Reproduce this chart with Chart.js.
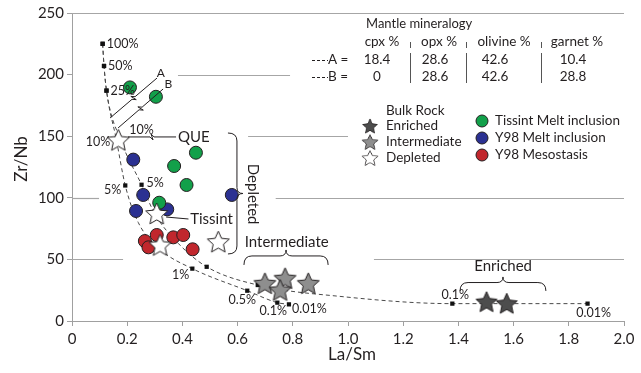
<!DOCTYPE html>
<html>
<head>
<meta charset="utf-8">
<script src="https://cdn.jsdelivr.net/npm/chart.js@4"></script>
<style>
  html, body { margin: 0; padding: 0; background: #fff; }
  #caja { width: 641px; height: 373px; }
</style>
</head>
<body>
<div id="caja"><canvas id="grafico" width="641" height="373"></canvas></div>
<script>
// valores (La/Sm vs Zr/Nb)
const ticksX = ['0', '0.2', '0.4', '0.6', '0.8', '1.0', '1.2', '1.4', '1.6', '1.8', '2.0'];
const ticksY = ['0', '50', '100', '150', '200', '250'];

// curvas de fusion (etiqueta null = punto de la curva sin marcador)
const curvaIzq_x = [0.111, 0.116, 0.125, 0.160, 0.193, 0.240, 0.320, 0.436, 0.635, 0.744, 0.786];
const curvaIzq_y = [225, 207, 187, 148, 110, 80, 58, 42.5, 24.6, 14.9, 13.5];
const curvaIzq_etq = ['100%', '50%', '25%', '10%', '5%', null, null, '1%', '0.5%', '0.1%', '0.01%'];

const curvaDer_x = [0.111, 0.116, 0.125, 0.178, 0.252, 0.300, 0.385, 0.488, 0.673, 0.970, 1.378, 1.868];
const curvaDer_y = [225, 207, 187, 146, 110.6, 87, 63, 44, 29.2, 20, 14.1, 14.1];
const curvaDer_etq = ['100%', '50%', '25%', '10%', '5%', null, null, '1%', '0.5%', null, '0.1%', '0.01%'];

const tissint_x = [0.210, 0.304, 0.449, 0.370, 0.415, 0.316];
const tissint_y = [189.6, 182, 136.6, 125.8, 110.4, 96];
const y98melt_x = [0.222, 0.258, 0.232, 0.345, 0.579];
const y98melt_y = [131, 102.3, 89.3, 90.6, 102.3];
const y98meso_x = [0.264, 0.277, 0.307, 0.367, 0.403, 0.437];
const y98meso_y = [64.9, 59.8, 69.8, 67.9, 69.8, 58.2];

const enriquecido_x = [1.502, 1.575];
const enriquecido_y = [15.7, 14.4];
const intermedio_x = [0.699, 0.772, 0.856, 0.754];
const intermedio_y = [30.6, 34.7, 30.6, 25.2];
const empobrecido_x = [0.168, 0.307, 0.319, 0.530];
const empobrecido_y = [147, 87.3, 61.7, 64.4];

// tabla de mineralogia del manto
const minerales = ['cpx %', 'opx %', 'olivine %', 'garnet %'];
const modoA = ['18.4', '28.6', '42.6', '10.4'];
const modoB = ['0', '28.6', '42.6', '28.8'];

const fuente = 'Lato, "Open Sans", sans-serif';
const tinta = '#231f20';

const puntos = (xs, ys) => xs.map((x, i) => ({ x: x, y: ys[i] }));

const hacerEstrella = (r, relleno) => {
    const c = document.createElement('canvas');
    const t = Math.ceil(r * 2 + 4);
    c.width = t; c.height = t;
    const g = c.getContext('2d');
    g.beginPath();
    for (let i = 0; i < 10; i++) {
        const rad = i % 2 === 0 ? r : r * 0.47;
        const ang = -Math.PI / 2 + i * Math.PI / 5;
        const px = t / 2 + rad * Math.cos(ang);
        const py = t / 2 + 1 + rad * Math.sin(ang);
        i === 0 ? g.moveTo(px, py) : g.lineTo(px, py);
    }
    g.closePath();
    g.fillStyle = relleno; g.fill();
    g.strokeStyle = tinta; g.lineWidth = 1; g.stroke();
    return c;
};

const colEnr = '#4d4d4d', colInt = '#8e8e8e', colEmp = '#ffffff';
const colVerde = '#12a04a', colAzul = '#2b3192', colRojo = '#c1272d';

const estrellaEnr = hacerEstrella(11, colEnr);
const estrellaInt = hacerEstrella(11.5, colInt);
const estrellaEmp = hacerEstrella(11.5, colEmp);

// donde se escribe cada etiqueta de la curva [dx, dy, alineacion]
const posIzq = {
    '100%': [4, 0, 'left'], '50%': [4, 0, 'left'], '25%': [4, 0, 'left'],
    '10%': [-6, 3, 'right'], '5%': [-4, 4, 'right'], '1%': [-3, 6, 'right'],
    '0.5%': [-5, 9, 'center'], '0.1%': [-4, 8, 'center'], '0.01%': [3, 5, 'left']
};
const posDer = {
    '10%': [8, -11, 'left'], '5%': [5, -2, 'left'],
    '0.1%': [3, -9, 'center'], '0.01%': [6, 9, 'center']
};

// tramos de rejilla horizontal [valor, desde, hasta]
const tramosRejilla = [
    [250, 0, 2], [200, 0.384, 0.79], [150, 0.638, 1.0],
    [100, 0, 0.098], [100, 0.738, 2], [50, 0, 0.185], [50, 1.094, 2]
];

const lineaQuebrada = (g, x0, y0, x1, y1) => {
    const mx = (x0 + x1) / 2, my = (y0 + y1) / 2;
    const L = Math.hypot(x1 - x0, y1 - y0);
    const ux = (x1 - x0) / L, uy = (y1 - y0) / L, nx = -uy, ny = ux;
    g.beginPath();
    g.moveTo(x0, y0);
    g.lineTo(mx - ux * 2, my - uy * 2);
    g.lineTo(mx + nx * 3 + ux, my + ny * 3 + uy);
    g.lineTo(mx - nx * 3 - ux, my - ny * 3 - uy);
    g.lineTo(mx + ux * 2, my + uy * 2);
    g.lineTo(x1, y1);
    g.stroke();
};

const llaveH = (g, xa, xb, y, d) => {
    const xm = (xa + xb) / 2, yb = y + d * 0.6, yt = y + d;
    g.beginPath();
    g.moveTo(xa, y);
    g.quadraticCurveTo(xa, yb, xa + 8, yb);
    g.lineTo(xm - 6, yb);
    g.quadraticCurveTo(xm, yb, xm, yt);
    g.quadraticCurveTo(xm, yb, xm + 6, yb);
    g.lineTo(xb - 8, yb);
    g.quadraticCurveTo(xb, yb, xb, y);
    g.stroke();
};

const llaveV = (g, x, ya, yb, d) => {
    const ym = (ya + yb) / 2, xb = x + d * 0.6, xt = x + d;
    g.beginPath();
    g.moveTo(x, ya);
    g.quadraticCurveTo(xb, ya, xb, ya + 8);
    g.lineTo(xb, ym - 6);
    g.quadraticCurveTo(xb, ym, xt, ym);
    g.quadraticCurveTo(xb, ym, xb, ym + 6);
    g.lineTo(xb, yb - 8);
    g.quadraticCurveTo(xb, yb, x, yb);
    g.stroke();
};

const texto = (g, s, x, y, tam, alin) => {
    g.font = tam + 'px ' + fuente;
    g.textAlign = alin || 'left';
    g.textBaseline = 'middle';
    g.fillText(s, x, y);
};

const decoracion = {
    id: 'decoracion',
    beforeDatasetsDraw(chart) {
        const g = chart.ctx, sx = chart.scales.x, sy = chart.scales.y;
        g.save();
        g.strokeStyle = '#a6a6a6'; g.lineWidth = 1.2;
        tramosRejilla.forEach(([v, a, b]) => {
            const y = Math.round(sy.getPixelForValue(v)) + 0.5;
            g.beginPath();
            g.moveTo(sx.getPixelForValue(a), y);
            g.lineTo(sx.getPixelForValue(b), y);
            g.stroke();
        });
        g.restore();
    },
    afterDatasetsDraw(chart) {
        const g = chart.ctx, sx = chart.scales.x, sy = chart.scales.y;
        const P = (x, y) => [sx.getPixelForValue(x), sy.getPixelForValue(y)];
        g.save();
        g.fillStyle = tinta; g.strokeStyle = tinta; g.lineWidth = 1;

        // etiquetas de porcentaje de fusion
        [[curvaIzq_x, curvaIzq_y, curvaIzq_etq, posIzq], [curvaDer_x, curvaDer_y, curvaDer_etq, posDer]]
        .forEach(([xs, ys, etq, pos]) => {
            etq.forEach((e, i) => {
                if (!e || !pos[e]) return;
                const [px, py] = P(xs[i], ys[i]);
                texto(g, e, px + pos[e][0], py + pos[e][1], 12.5, pos[e][2]);
            });
        });

        // lineas guia A y B
        let a = P(0.138, 164.8), b = P(0.308, 197.2);
        lineaQuebrada(g, a[0], a[1], b[0], b[1]);
        a = P(0.167, 156.7); b = P(0.330, 188.3);
        lineaQuebrada(g, a[0], a[1], b[0], b[1]);
        let t = P(0.322, 201); texto(g, 'A', t[0], t[1], 12, 'center');
        t = P(0.349, 192.5); texto(g, 'B', t[0], t[1], 12, 'center');

        // QUE y Tissint
        a = P(0.203, 149.4); b = P(0.377, 149.4);
        lineaQuebrada(g, a[0], a[1], b[0], b[1]);
        t = P(0.384, 149.4); texto(g, 'QUE', t[0], t[1], 15, 'left');
        a = P(0.341, 84.4); b = P(0.422, 82.8);
        g.beginPath(); g.moveTo(a[0], a[1]); g.lineTo(b[0], b[1]); g.stroke();
        t = P(0.428, 82.8); texto(g, 'Tissint', t[0], t[1], 15, 'left');

        // llaves
        a = P(0.565, 152.6); b = P(0.569, 54.4);
        llaveV(g, a[0], a[1], b[1], 15);
        a = P(0.623, 45.5); b = P(0.928, 45.5);
        llaveH(g, a[0], b[0], a[1], -15);
        a = P(1.406, 24.4); b = P(1.717, 24.4);
        llaveH(g, a[0], b[0], a[1], -14);

        t = P(0.778, 64.4); texto(g, 'Intermediate', t[0], t[1], 15, 'center');
        t = P(1.562, 44.6); texto(g, 'Enriched', t[0], t[1], 15, 'center');
        t = P(0.656, 103);
        g.save();
        g.translate(t[0], t[1]); g.rotate(Math.PI / 2);
        texto(g, 'Depleted', 0, 0, 15, 'center');
        g.restore();
        g.restore();
    },
    afterDraw(chart) {
        const g = chart.ctx;
        g.save();
        g.fillStyle = tinta; g.strokeStyle = tinta;

        // titulos de ejes
        texto(g, 'La/Sm', 352, 355, 17, 'center');
        g.save();
        g.translate(22, 159); g.rotate(-Math.PI / 2);
        texto(g, 'Zr/Nb', 0, 0, 17, 'center');
        g.restore();

        // tabla de mineralogia
        texto(g, 'Mantle mineralogy', 366, 24, 13, 'left');
        const cabX = [382, 439, 504, 577];
        const valX = [377, 435, 495, 573];
        minerales.forEach((m, i) => texto(g, m, cabX[i], 42, 13.5, 'center'));
        modoA.forEach((v, i) => texto(g, v, valX[i], 60, 13.5, 'center'));
        modoB.forEach((v, i) => texto(g, v, valX[i], 77, 13.5, 'center'));
        texto(g, 'A =', 328, 60, 13.5, 'left');
        texto(g, 'B =', 328, 77, 13.5, 'left');
        g.lineWidth = 1;
        g.setLineDash([3, 2]);
        [60, 77].forEach(y => {
            g.beginPath(); g.moveTo(312, y + 0.5); g.lineTo(328, y + 0.5); g.stroke();
        });
        g.setLineDash([]);
        g.strokeStyle = '#555';
        [410, 466, 541].forEach(x => {
            g.beginPath();
            g.moveTo(x + 0.5, 42); g.lineTo(x + 0.5, 48);
            g.moveTo(x + 0.5, 53); g.lineTo(x + 0.5, 83);
            g.stroke();
        });
        g.strokeStyle = tinta;

        // leyenda
        const ds = chart.data.datasets;
        texto(g, 'Bulk Rock', 386, 111, 13.5, 'left');
        const estrellas = [[estrellaEnr, ds[2].label, 126], [estrellaInt, ds[3].label, 142], [estrellaEmp, ds[4].label, 158]];
        estrellas.forEach(([img, lab, y]) => {
            const s = img.width * 0.72;
            g.drawImage(img, 370 - s / 2, y - s / 2, s, s);
            texto(g, lab, 386, y, 13.5, 'left');
        });
        const circulos = [[colVerde, ds[5].label, 121], [colAzul, ds[6].label, 138], [colRojo, ds[7].label, 155]];
        circulos.forEach(([col, lab, y]) => {
            g.beginPath(); g.arc(482, y, 6, 0, Math.PI * 2);
            g.fillStyle = col; g.fill(); g.lineWidth = 1; g.stroke();
            g.fillStyle = tinta;
            texto(g, lab, 495, y, 13.5, 'left');
        });
        g.restore();
    }
};

const curva = (xs, ys, etq, nombre) => ({
    label: nombre,
    data: puntos(xs, ys),
    showLine: true,
    borderColor: '#4a4a4a',
    borderWidth: 1,
    borderDash: [4, 3],
    cubicInterpolationMode: 'monotone',
    pointStyle: 'rect',
    pointRadius: etq.map(e => e ? 3 : 0),
    pointBackgroundColor: '#111',
    pointBorderColor: '#111',
    pointBorderWidth: 0,
    order: 10
});

const circulo = (xs, ys, col, nombre) => ({
    label: nombre,
    data: puntos(xs, ys),
    pointStyle: 'circle',
    pointRadius: 6.5,
    pointBackgroundColor: col,
    pointBorderColor: tinta,
    pointBorderWidth: 1,
    order: 5
});

const estrella = (xs, ys, img, nombre) => ({
    label: nombre,
    data: puntos(xs, ys),
    pointStyle: img,
    pointRadius: 11,
    order: 1
});

const config = {
    type: 'scatter',
    data: {
        datasets: [
            curva(curvaIzq_x, curvaIzq_y, curvaIzq_etq, 'A'),
            curva(curvaDer_x, curvaDer_y, curvaDer_etq, 'B'),
            estrella(enriquecido_x, enriquecido_y, estrellaEnr, 'Enriched'),
            estrella(intermedio_x, intermedio_y, estrellaInt, 'Intermediate'),
            estrella(empobrecido_x, empobrecido_y, estrellaEmp, 'Depleted'),
            circulo(tissint_x, tissint_y, colVerde, 'Tissint Melt inclusion'),
            circulo(y98melt_x, y98melt_y, colAzul, 'Y98 Melt inclusion'),
            circulo(y98meso_x, y98meso_y, colRojo, 'Y98 Mesostasis')
        ]
    },
    options: {
        responsive: false,
        animation: false,
        devicePixelRatio: 1,
        layout: { padding: { top: 13, right: 17, left: 0, bottom: 0 } },
        plugins: { legend: { display: false }, tooltip: { enabled: false } },
        scales: {
            x: {
                type: 'linear', min: 0, max: 2,
                afterFit: (s) => { s.height = 52; },
                grid: { drawOnChartArea: false, drawTicks: true, tickLength: 5, color: '#a0a0a0' },
                border: { color: '#a0a0a0', width: 1 },
                ticks: {
                    stepSize: 0.2, padding: 4, color: tinta,
                    font: { family: fuente, size: 15 },
                    callback: (v, i) => ticksX[i]
                }
            },
            y: {
                type: 'linear', min: 0, max: 250,
                afterFit: (s) => { s.width = 72; },
                grid: { drawOnChartArea: false, drawTicks: true, tickLength: 5, color: '#a0a0a0' },
                border: { color: '#a0a0a0', width: 1 },
                ticks: {
                    stepSize: 50, padding: 3, color: tinta,
                    font: { family: fuente, size: 15 },
                    callback: (v, i) => ticksY[i]
                }
            }
        }
    },
    plugins: [decoracion]
};

document.addEventListener('DOMContentLoaded', () => {
    new Chart(document.getElementById('grafico'), config);
});
</script>
</body>
</html>
